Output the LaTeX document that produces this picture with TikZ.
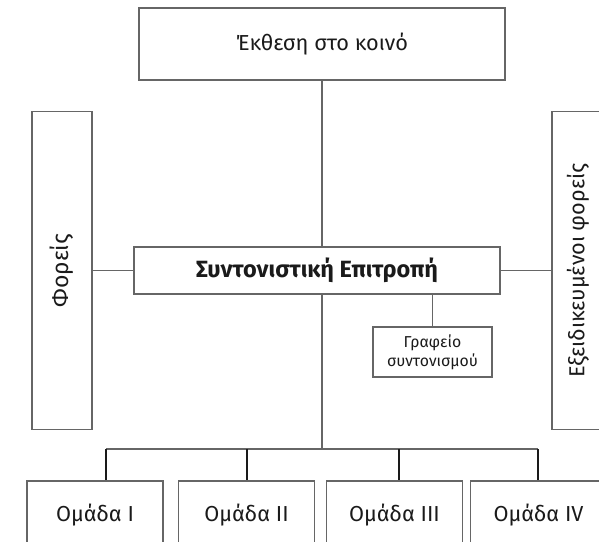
\documentclass[tikz,border=0pt]{standalone}
\usepackage{fontspec}
\setmainfont{Fira Sans}
\definecolor{linegray}{HTML}{666666}
\definecolor{textblack}{HTML}{1A1A1A}
\tikzset{
  box/.style={draw=linegray, line width=1.5, inner sep=0pt, align=center,
    text=textblack, font=\fontsize{21.7}{25}\selectfont},
  link/.style={draw=linegray, line width=1.5},
  drop/.style={draw=textblack, line width=1.5}
}

\begin{document}
\begin{tikzpicture}[x=1pt, y=-1pt]
    \useasboundingbox (0,0) rectangle (599,541);

    % top, centre and the office
    \node[box, minimum width=366, minimum height=72] (public) at (322,44) {Έκθεση στο κοινό};
    \node[box, minimum width=366, minimum height=47, font=\fontsize{23.5}{27}\selectfont\bfseries] (committee) at (317,270.5) {Συντονιστική Επιτροπή};
    \node[box, minimum width=119, minimum height=50, font=\fontsize{15.8}{19}\selectfont] (office) at (432.5,352) {Γραφείο\\συντονισμού};

    % the two side boxes
    \node[box, rotate=90, minimum width=318, minimum height=60, font=\fontsize{23}{27}\selectfont] (bodies) at (62,270.5) {Φορείς};
    \node[box, rotate=90, minimum width=318, minimum height=52] (experts) at (578,270.5) {Εξειδικευμένοι φορείς};

    \draw[link] (public.south) -- (public.south |- committee.north);
    \draw[link] (committee.west) -- (bodies);
    \draw[link] (committee.east) -- (experts);
    \draw[link] (committee.south -| office.north) -- (office.north);

    % the groups
    \coordinate (bus) at (322,449);
    \coordinate (busleft) at (106,449);
    \coordinate (busright) at (538,449);
    \draw[link] (public.south |- committee.south) -- (bus);
    \draw[link] (busleft) -- (busright);

    \foreach \name/\cx/\dx/\num in {g1/95/106/I, g2/246.5/247/II, g3/394.5/399/III, g4/538.5/538/IV} {
        \node[box, minimum width=136, minimum height=69] (\name) at (\cx,515.5) {Ομάδα \num};
        \coordinate (\name top) at (\dx,449);
        \draw[drop] (\name top) -- (\name top |- \name.north);
    }
\end{tikzpicture}
\end{document}
